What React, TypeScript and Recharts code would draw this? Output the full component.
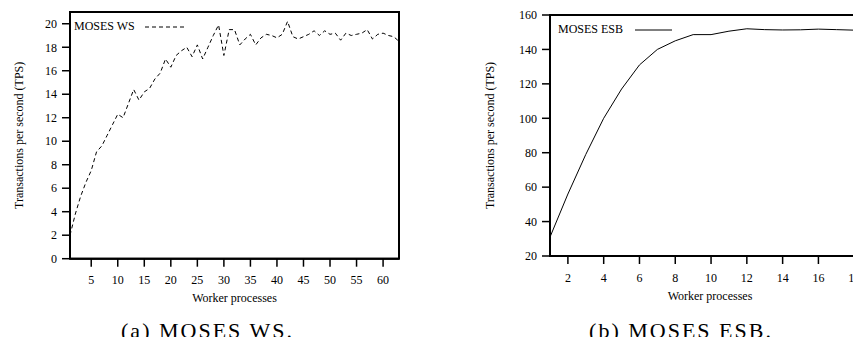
import { LineChart, Line, XAxis, YAxis, ReferenceArea, Legend } from "recharts";

// MOSES WS throughput, one point per worker count
const wsWorkers = [
  1, 2, 3, 4, 5, 6, 7, 8, 9, 10, 11, 12, 13, 14, 15, 16, 17, 18, 19, 20, 21,
  22, 23, 24, 25, 26, 27, 28, 29, 30, 31, 32, 33, 34, 35, 36, 37, 38, 39, 40,
  41, 42, 43, 44, 45, 46, 47, 48, 49, 50, 51, 52, 53, 54, 55, 56, 57, 58, 59,
  60, 61, 62, 63,
];
const wsTps = [
  2.0, 3.8, 5.3, 6.5, 7.5, 9.1, 9.6, 10.5, 11.4, 12.3, 12.0, 13.2, 14.4, 13.5,
  14.2, 14.5, 15.3, 15.8, 17.0, 16.3, 17.3, 17.7, 18.0, 17.2, 18.2, 17.0, 18.0,
  19.0, 19.9, 17.3, 19.5, 19.5, 18.2, 18.7, 19.1, 18.2, 18.8, 19.1, 19.0, 18.8,
  19.1, 20.2, 18.9, 18.7, 18.9, 19.1, 19.4, 19.0, 19.4, 19.1, 19.2, 18.6, 19.2,
  19.0, 19.1, 19.2, 19.5, 18.7, 19.1, 19.2, 19.0, 18.9, 18.5,
];

// MOSES ESB throughput
const esbWorkers = [1, 2, 3, 4, 5, 6, 7, 8, 9, 10, 11, 12, 13, 14, 15, 16, 17, 18, 19, 20];
const esbTps = [
  31, 56, 79, 100, 117, 131, 140, 145, 148.6, 148.6, 150.6, 152, 151.5, 151.3,
  151.4, 151.8, 151.5, 151.2, 151, 151,
];

const wsTicksX = [5, 10, 15, 20, 25, 30, 35, 40, 45, 50, 55, 60];
const wsTicksY = [0, 2, 4, 6, 8, 10, 12, 14, 16, 18, 20];
const esbTicksX = [2, 4, 6, 8, 10, 12, 14, 16, 18, 20];
const esbTicksY = [20, 40, 60, 80, 100, 120, 140, 160];

const wsData = wsWorkers.map((w, i) => ({ workers: w, tps: wsTps[i] }));
const esbData = esbWorkers.map((w, i) => ({ workers: w, tps: esbTps[i] }));

const FONT = '"Liberation Serif", "Times New Roman", serif';
const tickStyle = { fill: "#000", fontSize: 12, fontFamily: FONT };
const axisLine = { stroke: "#000", strokeWidth: 2 };
const tickLine = { stroke: "#000", strokeWidth: 1.5 };
const labelStyle = { fontFamily: FONT, fontSize: 12, fill: "#000" };

const LegendKey = ({ label, dashed, len, gap }: { label: string; dashed: boolean; len: number; gap: number }) => (
  <div style={{ display: "flex", alignItems: "center", fontFamily: FONT, fontSize: 12, color: "#000", whiteSpace: "nowrap" }}>
    <span>{label}</span>
    <svg width={len} height={6} style={{ marginLeft: gap }}>
      <line x1={0} y1={3} x2={len} y2={3} stroke="#000" strokeWidth={1} strokeDasharray={dashed ? "4 3" : undefined} />
    </svg>
  </div>
);

const Caption = ({ text, center }: { text: string; center: number }) => (
  <div
    style={{
      position: "absolute",
      left: center - 120,
      width: 240,
      top: 320,
      height: 22,
      lineHeight: "22px",
      textAlign: "center",
      fontFamily: FONT,
      fontSize: 22,
      letterSpacing: 2,
      color: "#000",
    }}
  >
    {text}
  </div>
);

export default function App() {
  return (
    <div style={{ position: "relative", margin: -8, width: 861, height: 345, overflow: "hidden", background: "#fff" }}>
      <div style={{ position: "absolute", left: 0, top: 0 }}>
        <LineChart width={420} height={345} data={wsData} margin={{ top: 12, right: 21, bottom: 44.3, left: 0 }}>
          <XAxis
            dataKey="workers"
            type="number"
            domain={[1, 63]}
            ticks={wsTicksX}
            height={42}
            tickSize={8}
            tickMargin={9}
            tick={tickStyle}
            axisLine={axisLine}
            tickLine={tickLine}
            label={{ value: "Worker processes", position: "insideBottom", offset: -1.5, style: labelStyle }}
          />
          <YAxis
            type="number"
            domain={[0, 21]}
            ticks={wsTicksY}
            width={70}
            tickSize={8}
            tickMargin={5}
            tick={tickStyle}
            axisLine={axisLine}
            tickLine={tickLine}
            label={{
              value: "Transactions per second (TPS)",
              angle: -90,
              position: "insideLeft",
              offset: 19,
              style: { ...labelStyle, textAnchor: "middle" },
            }}
          />
          <ReferenceArea x1={1} x2={63} y1={0} y2={21} fill="none" stroke="#000" strokeWidth={2} />
          <Legend
            layout="vertical"
            verticalAlign="middle"
            align="center"
            wrapperStyle={{ top: 19, left: 74, width: "auto", height: "auto" }}
            content={() => <LegendKey label="MOSES WS" dashed len={40} gap={10} />}
          />
          <Line
            type="linear"
            dataKey="tps"
            name="MOSES WS"
            stroke="#000"
            strokeWidth={1}
            strokeDasharray="4 3"
            dot={false}
            isAnimationActive={false}
          />
        </LineChart>
      </div>
      <div style={{ position: "absolute", left: 430, top: 0 }}>
        <LineChart width={470} height={345} data={esbData} margin={{ top: 15, right: 10, bottom: 47, left: 0 }}>
          <XAxis
            dataKey="workers"
            type="number"
            domain={[1, 20]}
            ticks={esbTicksX}
            height={42}
            tickSize={8}
            tickMargin={9}
            tick={tickStyle}
            axisLine={axisLine}
            tickLine={tickLine}
            label={{ value: "Worker processes", position: "insideBottom", offset: -1.5, dx: -10, style: labelStyle }}
          />
          <YAxis
            type="number"
            domain={[20, 160]}
            ticks={esbTicksY}
            width={120}
            tickSize={8}
            tickMargin={5}
            tick={tickStyle}
            axisLine={axisLine}
            tickLine={tickLine}
            label={{
              value: "Transactions per second (TPS)",
              angle: -90,
              position: "insideLeft",
              offset: 60,
              style: { ...labelStyle, textAnchor: "middle" },
            }}
          />
          <ReferenceArea x1={1} x2={20} y1={20} y2={160} fill="none" stroke="#000" strokeWidth={2} />
          <Legend
            layout="vertical"
            verticalAlign="middle"
            align="center"
            wrapperStyle={{ top: 22, left: 128, width: "auto", height: "auto" }}
            content={() => <LegendKey label="MOSES ESB" dashed={false} len={37} gap={12} />}
          />
          <Line
            type="linear"
            dataKey="tps"
            name="MOSES ESB"
            stroke="#000"
            strokeWidth={1}
            dot={false}
            isAnimationActive={false}
          />
        </LineChart>
      </div>
      <Caption text="(a) MOSES WS." center={207.5} />
      <Caption text="(b) MOSES ESB." center={681} />
    </div>
  );
}
